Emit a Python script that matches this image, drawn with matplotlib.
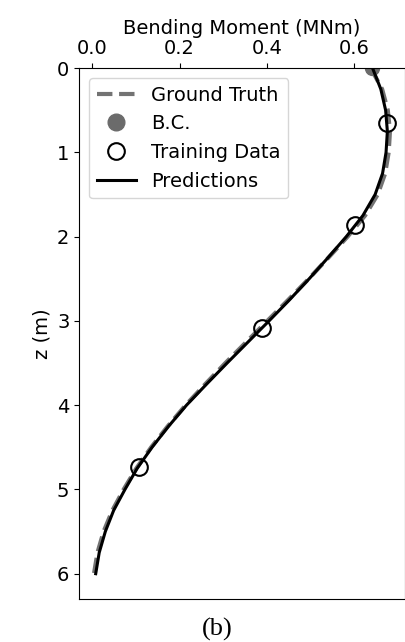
import numpy as np
import matplotlib.pyplot as plt

# depth (m) and bending moment (MNm)
z = [0.0, 0.25, 0.5, 0.75, 1.0, 1.25, 1.5, 1.75, 2.0, 2.25, 2.5, 2.75,
     3.0, 3.25, 3.5, 3.75, 4.0, 4.25, 4.5, 4.75, 5.0, 5.25, 5.5, 5.75, 6.0]
m_pred = [0.642, 0.661, 0.672, 0.676, 0.673, 0.665, 0.648, 0.620, 0.582, 0.540,
          0.497, 0.452, 0.405, 0.357, 0.309, 0.262, 0.216, 0.175, 0.137, 0.103,
          0.075, 0.049, 0.030, 0.016, 0.008]
m_true = [0.638, 0.664, 0.677, 0.682, 0.679, 0.671, 0.654, 0.625, 0.585, 0.541,
          0.496, 0.449, 0.401, 0.353, 0.305, 0.259, 0.214, 0.173, 0.135, 0.101,
          0.072, 0.046, 0.026, 0.012, 0.004]

bc_z = [0.0]
bc_m = [0.640]

train_z = [0.65, 1.86, 3.08, 4.73]
train_m = [0.676, 0.603, 0.390, 0.106]

plt.rcParams['font.size'] = 14

fig = plt.figure(figsize=(4.06, 6.42), dpi=100)
ax = fig.add_axes([0.195, 0.067, 0.802, 0.827])

ax.plot(m_true, z, '--', color='0.45', lw=3, label='Ground Truth')
bc, = ax.plot(bc_m, bc_z, 'o', color='0.42', ms=10, label='B.C.')
bc.set_clip_path(ax.patch)
ax.plot(train_m, train_z, 'o', mfc='none', mec='black', ms=12, mew=1.5, label='Training Data')
ax.plot(m_pred, z, '-', color='black', lw=2.2, label='Predictions')

ax.set_ylim(6.3, 0)
ax.set_xticks([0.0, 0.2, 0.4, 0.6])
ax.xaxis.tick_top()
ax.xaxis.set_label_position('top')
ax.set_xlabel('Bending Moment (MNm)')
ax.set_ylabel('z (m)')
leg = ax.legend(loc='upper left')
leg.legend_handles[1].set_markersize(12)

fig.text(0.534, 0.019, '(b)', ha='center', va='center', family='Liberation Serif', fontsize=19)

fig.savefig('out.png', dpi=100)
